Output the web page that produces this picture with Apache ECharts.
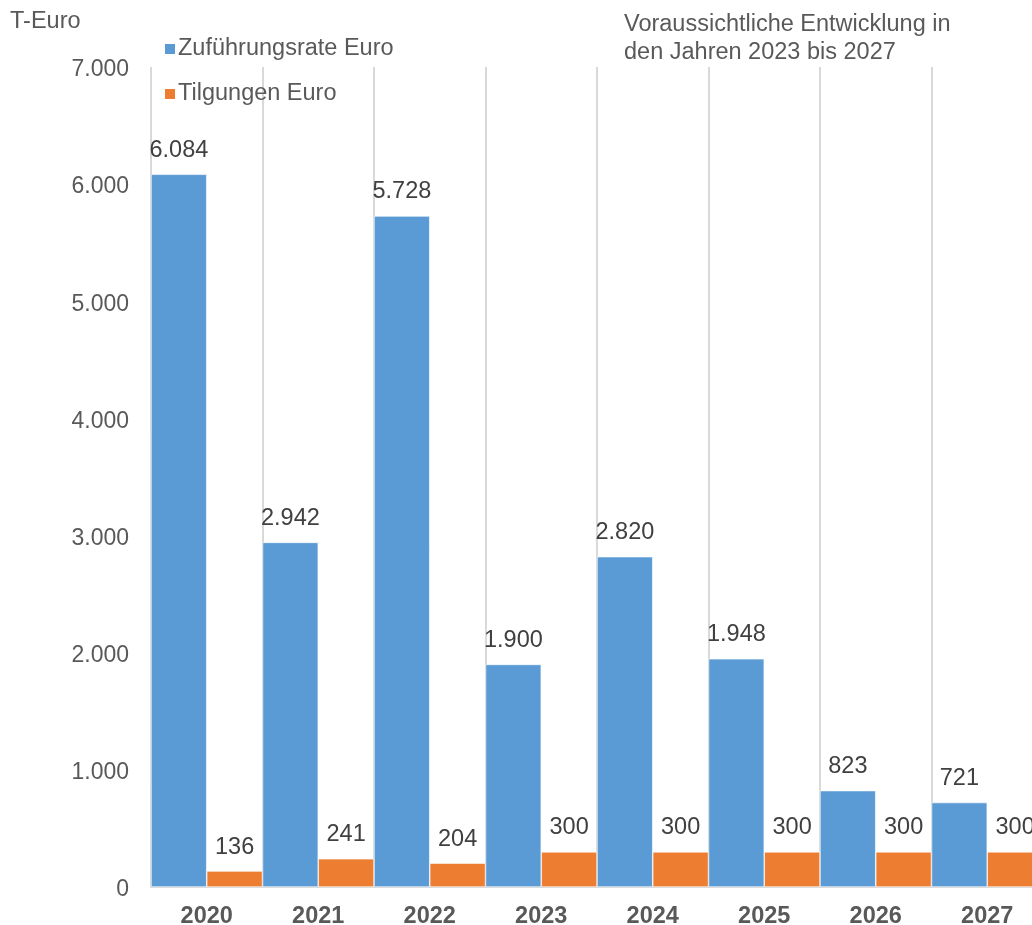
<!DOCTYPE html>
<html>
<head>
<meta charset="utf-8">
<script src="https://cdn.jsdelivr.net/npm/echarts@6/dist/echarts.min.js"></script>
<style>
html,body{margin:0;padding:0;background:#fff;}
#main{width:1032px;height:925px;}
</style>
</head>
<body>
<div id="main"></div>
<script>
var years = ['2020','2021','2022','2023','2024','2025','2026','2027'];
var zufuehrung = [6084, 2942, 5728, 1900, 2820, 1948, 823, 721];
var tilgungen = [136, 241, 204, 300, 300, 300, 300, 300];
var yTicks = [0, 1000, 2000, 3000, 4000, 5000, 6000, 7000];

// deutsche Tausendertrennung
function fmt(v) {
    return String(v).replace(/\B(?=(\d{3})+(?!\d))/g, '.');
}

var myChart = echarts.init(document.getElementById('main'));
var font = 'Liberation Sans';

option = {
    animation: false,
    textStyle: {fontFamily: font},
    grid: {left: 151, top: 67, width: 892, height: 820, outerBoundsMode: 'none'},
    graphic: [
        {type: 'text', left: 10, top: 10, style: {text: 'T-Euro', font: '23.5px "Liberation Sans"', fill: '#595959'}},
        {type: 'text', left: 624, top: 11, style: {text: 'Voraussichtliche Entwicklung in\nden Jahren 2023 bis 2027', font: '23.5px "Liberation Sans"', fill: '#595959', lineHeight: 28}}
    ],
    legend: {
        left: 158,
        top: 32,
        orient: 'vertical',
        itemWidth: 12,
        itemHeight: 12,
        itemGap: 21,
        icon: 'rect',
        textStyle: {fontSize: 23.5, color: '#595959', padding: [0, 0, 0, -3]},
        data: ['Zuführungsrate Euro', 'Tilgungen Euro']
    },
    xAxis: {
        type: 'category',
        data: years,
        axisTick: {show: false},
        axisLine: {lineStyle: {color: '#D9D9D9', width: 2}},
        axisLabel: {fontSize: 23.5, fontWeight: 'bold', color: '#595959', margin: 18},
        splitLine: {show: true, lineStyle: {color: '#D9D9D9', width: 2}}
    },
    yAxis: {
        type: 'value',
        min: 0,
        max: 7000,
        interval: 1000,
        axisLine: {show: false},
        axisTick: {show: false},
        splitLine: {show: false},
        axisLabel: {
            margin: 22,
            formatter: function (v) { return yTicks.indexOf(v) >= 0 ? '{t|' + fmt(v) + '}' : ''; },
            rich: {t: {fontSize: 23, color: '#595959', padding: [6, 0, 0, 0]}}
        }
    },
    series: [
        {
            name: 'Zuführungsrate Euro',
            type: 'bar',
            data: zufuehrung,
            barGap: '0%',
            barCategoryGap: '0%',
            itemStyle: {color: '#5B9BD5', borderColor: '#ffffff', borderWidth: 0.6},
            label: {show: true, position: 'top', distance: 12, fontSize: 23.5, color: '#404040', formatter: function (p) { return fmt(p.value); }}
        },
        {
            name: 'Tilgungen Euro',
            type: 'bar',
            data: tilgungen,
            barGap: '0%',
            barCategoryGap: '0%',
            itemStyle: {color: '#ED7D31', borderColor: '#ffffff', borderWidth: 0.6},
            label: {show: true, position: 'top', distance: 12, fontSize: 23.5, color: '#404040', formatter: function (p) { return fmt(p.value); }}
        }
    ]
};
myChart.setOption(option);
</script>
</body>
</html>
